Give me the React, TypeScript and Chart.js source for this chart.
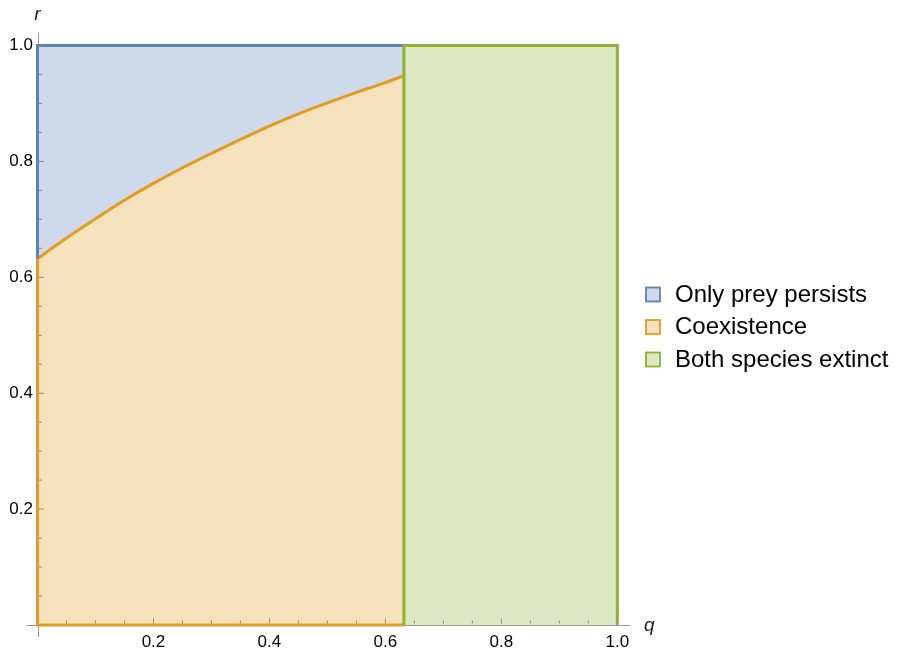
import React, { useEffect, useRef } from 'react';
import { Chart, registerables } from 'chart.js';

Chart.register(...registerables);

// ---- data ----
const qStar = 0.632; // boundary between coexistence and extinction
const curveQ = [0, 0.05, 0.1, 0.15, 0.2, 0.25, 0.3, 0.35, 0.4, 0.45, 0.5, 0.55, 0.6, 0.632];
const curveR = [0.632, 0.668, 0.701, 0.733, 0.762, 0.789, 0.814, 0.838, 0.861, 0.882, 0.901, 0.919, 0.936, 0.948];
const seriesNames = ['Only prey persists', 'Coexistence', 'Both species extinct'];
const xTickLabels = ['0.2', '0.4', '0.6', '0.8', '1.0'];
const yTickLabels = ['0.2', '0.4', '0.6', '0.8', '1.0'];
const xTitle = 'q';
const yTitle = 'r';

// ---- styles ----
const lineColors = ['#5E81B5', '#E19C24', '#8FB032'];
const fillColors = ['rgba(94,129,181,0.3)', 'rgba(225,156,36,0.3)', 'rgba(143,176,50,0.3)'];
const FONT = '"Liberation Sans", Arial, sans-serif';
const BW = 3;

const curvePts = curveQ.map((q, i) => ({ x: q, y: curveR[i] }));

const axesPlugin = {
  id: 'mmaAxes',
  beforeDatasetsDraw(chart: any) {
    const { ctx } = chart;
    const xs = chart.scales.x;
    const ys = chart.scales.y;
    const x0 = xs.getPixelForValue(0);
    const y0 = ys.getPixelForValue(0);
    ctx.save();
    ctx.strokeStyle = '#9a9a9a';
    ctx.lineWidth = 1;
    ctx.beginPath();
    ctx.moveTo(x0 - 11, Math.round(y0) + 0.5);
    ctx.lineTo(xs.getPixelForValue(1) + 13, Math.round(y0) + 0.5);
    ctx.moveTo(Math.round(x0) + 0.5, ys.getPixelForValue(1) - 13);
    ctx.lineTo(Math.round(x0) + 0.5, y0 + 12);
    ctx.stroke();
    ctx.restore();
  },
  afterDatasetsDraw(chart: any) {
    const { ctx } = chart;
    const xs = chart.scales.x;
    const ys = chart.scales.y;
    const x0 = xs.getPixelForValue(0);
    const y0 = ys.getPixelForValue(0);
    ctx.save();
    ctx.strokeStyle = '#8a8a8a';
    ctx.lineWidth = 1;
    ctx.beginPath();
    for (let i = 1; i <= 20; i++) {
      const v = i / 20;
      const len = i % 4 === 0 ? 5 : 3;
      const px = xs.getPixelForValue(v);
      ctx.moveTo(px, y0 - 1.5);
      ctx.lineTo(px, y0 - 1.5 - len);
      const py = ys.getPixelForValue(v);
      ctx.moveTo(x0 + 1.5, py);
      ctx.lineTo(x0 + 1.5 + len, py);
    }
    ctx.stroke();
    ctx.restore();
  },
  afterDraw(chart: any) {
    const { ctx } = chart;
    const xs = chart.scales.x;
    const ys = chart.scales.y;
    ctx.save();
    // axis titles
    ctx.fillStyle = '#222';
    ctx.font = `italic 19px ${FONT}`;
    ctx.textAlign = 'center';
    ctx.textBaseline = 'middle';
    ctx.fillText(yTitle, xs.getPixelForValue(0), ys.getPixelForValue(1) - 31);
    ctx.fillText(xTitle, xs.getPixelForValue(1) + 32, ys.getPixelForValue(0) + 1);
    // legend
    ctx.font = `24px ${FONT}`;
    ctx.textAlign = 'left';
    ctx.textBaseline = 'alphabetic';
    const baseline0 = 301.5;
    const step = 32.5;
    seriesNames.forEach((name, i) => {
      const b = baseline0 + i * step;
      ctx.fillStyle = '#fff';
      ctx.fillRect(646, b - 14, 14, 14);
      ctx.fillStyle = fillColors[i];
      ctx.fillRect(646, b - 14, 14, 14);
      ctx.strokeStyle = lineColors[i];
      ctx.lineWidth = 1.8;
      ctx.strokeRect(646, b - 14, 14, 14);
      ctx.fillStyle = '#000';
      ctx.fillText(name, 675, b);
    });
    ctx.restore();
  },
};

export default function App() {
  const ref = useRef<HTMLCanvasElement | null>(null);
  useEffect(() => {
    if (!ref.current) return;
    const base = { showLine: true, pointRadius: 0, pointHoverRadius: 0, tension: 0, clip: 6 };
    const chart = new Chart(ref.current, {
      type: 'scatter',
      data: {
        datasets: [
          // order: lower drawn on top
          {
            ...base,
            label: 'greenEdge',
            data: [{ x: qStar, y: 0 }, { x: qStar, y: 1 }, { x: 1, y: 1 }, { x: 1, y: 0 }],
            borderColor: lineColors[2],
            borderWidth: BW,
            borderJoinStyle: 'miter',
            fill: false,
            order: 1,
          },
          {
            ...base,
            label: 'orangeEdge',
            data: [{ x: 0, y: curveR[0] }, { x: 0, y: 0 }, { x: qStar, y: 0 }],
            borderColor: lineColors[1],
            borderWidth: BW,
            borderJoinStyle: 'miter',
            fill: false,
            order: 2,
          },
          {
            ...base,
            label: 'blueEdge',
            data: [{ x: 0, y: curveR[0] }, { x: 0, y: 1 }, { x: qStar, y: 1 }],
            borderColor: lineColors[0],
            borderWidth: BW,
            borderJoinStyle: 'miter',
            fill: false,
            order: 3,
          },
          {
            ...base,
            label: seriesNames[2],
            data: [{ x: qStar, y: 1 }, { x: 1, y: 1 }],
            borderWidth: 0,
            borderColor: 'rgba(0,0,0,0)',
            backgroundColor: fillColors[2],
            fill: 'origin',
            order: 4,
          },
          {
            ...base,
            label: seriesNames[1],
            data: curvePts,
            cubicInterpolationMode: 'monotone',
            borderColor: lineColors[1],
            borderWidth: BW,
            backgroundColor: fillColors[1],
            fill: 'origin',
            order: 5,
          },
          {
            ...base,
            label: seriesNames[0],
            data: curvePts,
            cubicInterpolationMode: 'monotone',
            borderWidth: 0,
            borderColor: 'rgba(0,0,0,0)',
            backgroundColor: fillColors[0],
            fill: 'end',
            order: 6,
          },
        ] as any,
      },
      options: {
        animation: false,
        responsive: true,
        maintainAspectRatio: false,
        layout: { padding: { left: 0, top: 45.5, right: 282.7, bottom: 0 } },
        plugins: { legend: { display: false }, tooltip: { enabled: false } },
        events: [],
        scales: {
          x: {
            type: 'linear',
            min: 0,
            max: 1,
            grid: { display: false, drawTicks: false },
            border: { display: false },
            afterFit: (s: any) => { s.height = 28; },
            ticks: {
              stepSize: 0.2,
              autoSkip: false,
              maxRotation: 0,
              padding: 7,
              color: '#000',
              font: { family: FONT, size: 17 },
              callback: (v: any) => {
                const i = Math.round(Number(v) / 0.2);
                return i > 0 ? xTickLabels[i - 1] : '';
              },
            },
          },
          y: {
            type: 'linear',
            min: 0,
            max: 1,
            grid: { display: false, drawTicks: false },
            border: { display: false },
            afterFit: (s: any) => { s.width = 37.5; },
            ticks: {
              stepSize: 0.2,
              autoSkip: false,
              padding: 4.5,
              color: '#000',
              font: { family: FONT, size: 17 },
              callback: (v: any) => {
                const i = Math.round(Number(v) / 0.2);
                return i > 0 ? yTickLabels[i - 1] : '';
              },
            },
          },
        },
      } as any,
      plugins: [axesPlugin],
    });
    return () => chart.destroy();
  }, []);
  return (
    <div style={{ position: 'absolute', left: 0, top: 0, width: 900, height: 653, background: '#fff' }}>
      <canvas ref={ref} />
    </div>
  );
}
